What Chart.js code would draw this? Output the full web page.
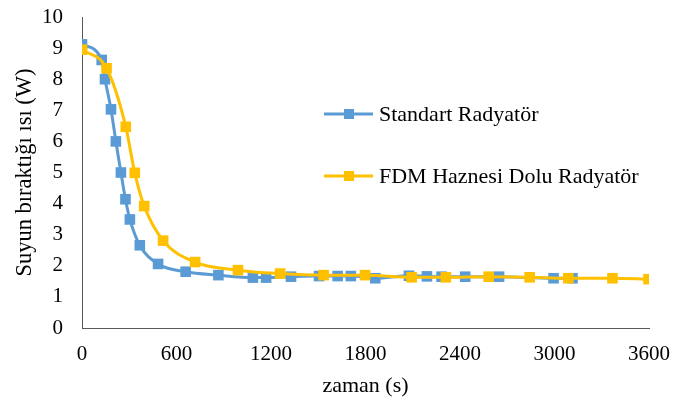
<!DOCTYPE html>
<html>
<head>
<meta charset="utf-8">
<script src="https://cdn.jsdelivr.net/npm/chart.js@4"></script>
<style>
  body { margin: 0; background: #fff; }
</style>
</head>
<body>
<canvas id="chart" width="674" height="399"></canvas>
<script>
// Standart Radyatör: zaman (s) ve ısı (W)
const standartX = [0, 125, 146, 184, 215, 247, 276, 304, 367, 483, 658, 866, 1085, 1169, 1327, 1505, 1623, 1707, 1862, 2076, 2190, 2283, 2433, 2648, 2994, 3114];
const standartY = [9.12, 8.62, 8.0, 7.03, 6.0, 5.0, 4.14, 3.49, 2.66, 2.06, 1.81, 1.70, 1.62, 1.62, 1.65, 1.67, 1.67, 1.67, 1.60, 1.68, 1.66, 1.65, 1.65, 1.65, 1.60, 1.60];

// FDM Haznesi Dolu Radyatör
const fdmX = [0, 156, 278, 335, 395, 515, 718, 990, 1258, 1534, 1797, 2093, 2310, 2582, 2842, 3088, 3368, 3597];
const fdmY = [8.95, 8.35, 6.47, 4.99, 3.92, 2.81, 2.12, 1.86, 1.75, 1.70, 1.70, 1.63, 1.63, 1.65, 1.63, 1.60, 1.60, 1.57];

const xTicks = [0, 600, 1200, 1800, 2400, 3000, 3600];
const seriesNames = ["Standart Radyatör", "FDM Haznesi Dolu Radyatör"];
const colors = ["#5B9BD5", "#FFC000"];

const serif = "'Liberation Serif', 'Times New Roman', serif";

const toPoints = (xs, ys) => xs.map((x, i) => ({ x: x, y: ys[i] }));

// the scales should not push the plot area around
const noScalePadding = (scale) => {
  scale.paddingLeft = 0;
  scale.paddingRight = 0;
  scale.paddingTop = 0;
  scale.paddingBottom = 0;
};

// legend inside plot, drawn by hand
const insideLegend = {
  id: "insideLegend",
  afterDraw(chart) {
    const ctx = chart.ctx;
    const rows = [114, 176];
    chart.data.datasets.forEach((ds, i) => {
      const y = rows[i];
      ctx.save();
      ctx.strokeStyle = ds.borderColor;
      ctx.lineWidth = 3;
      ctx.beginPath();
      ctx.moveTo(324, y);
      ctx.lineTo(373, y);
      ctx.stroke();
      ctx.fillStyle = ds.borderColor;
      ctx.fillRect(344, y - 5, 10, 10);
      ctx.fillStyle = "#000";
      ctx.font = "22px " + serif;
      ctx.textBaseline = "middle";
      ctx.fillText(ds.label, 379, y + 1);
      ctx.restore();
    });
  },
};

const data = {
  datasets: [
    {
      label: seriesNames[0],
      data: toPoints(standartX, standartY),
      borderColor: colors[0],
      backgroundColor: colors[0],
      borderWidth: 3,
      pointStyle: "rect",
      pointRadius: 7.5,
      pointBorderWidth: 0,
      cubicInterpolationMode: "monotone",
      order: 2,
    },
    {
      label: seriesNames[1],
      data: toPoints(fdmX, fdmY),
      borderColor: colors[1],
      backgroundColor: colors[1],
      borderWidth: 3,
      pointStyle: "rect",
      pointRadius: 7.5,
      pointBorderWidth: 0,
      cubicInterpolationMode: "monotone",
      order: 1,
    },
  ],
};

const config = {
  type: "line",
  data: data,
  options: {
    responsive: false,
    animation: false,
    layout: { padding: { top: 17, right: 25, bottom: 0, left: 0 } },
    plugins: { legend: { display: false }, tooltip: { enabled: false } },
    scales: {
      x: {
        type: "linear",
        min: 0,
        max: 3600,
        afterBuildTicks: (scale) => {
          scale.ticks = xTicks.map((v) => ({ value: v }));
        },
        afterFit: (scale) => {
          scale.height = 71;
          noScalePadding(scale);
        },
        grid: { display: false, drawTicks: false, tickLength: 0 },
        border: { display: true, color: "#595959", width: 1 },
        ticks: {
          color: "#000",
          padding: 14,
          font: { family: serif, size: 21 },
          maxRotation: 0,
          callback: (v) => String(v),
        },
        title: {
          display: true,
          text: "zaman (s)",
          color: "#000",
          font: { family: serif, size: 22 },
          padding: { top: 0, bottom: 0 },
        },
      },
      y: {
        min: 0,
        max: 10,
        ticks: { stepSize: 1, color: "#000", padding: 19, font: { family: serif, size: 21 } },
        afterFit: (scale) => {
          scale.width = 82;
          noScalePadding(scale);
        },
        grid: { display: false, drawTicks: false, tickLength: 0 },
        border: { display: true, color: "#595959", width: 1 },
        title: {
          display: true,
          text: "Suyun bıraktığı ısı (W)",
          color: "#000",
          font: { family: serif, size: 22.5 },
          padding: { top: 12, bottom: 0 },
        },
      },
    },
  },
  plugins: [insideLegend],
};

new Chart(document.getElementById("chart"), config);
</script>
</body>
</html>
